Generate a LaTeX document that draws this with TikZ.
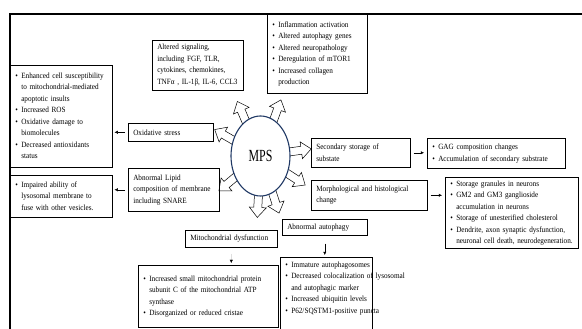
\documentclass[tikz,border=0pt]{standalone}
\usepackage{fontspec}
\setmainfont{Liberation Serif}[FakeStretch=0.9]
\newfontfamily\mpsfont{Liberation Serif}[FakeStretch=0.7]
\usetikzlibrary{arrows.meta,shapes.geometric}
\pgfdeclarelayer{bg}
\pgfsetlayers{bg,main}
\newenvironment{blist}{\begin{tabular}{@{}l@{\hspace{3.5pt}}l@{}}}{\end{tabular}}
\definecolor{mpsblue}{RGB}{31,56,100}
\tikzset{
  box/.style={draw=black, line width=0.55pt, anchor=north west, inner xsep=5pt, inner ysep=0pt, align=left, font=\fontsize{8}{11.5}\selectfont},
  lnk/.style={line width=0.4pt, -{Latex[length=3.2pt,width=3.2pt]}},
  blk/.style={draw=black, line width=0.5pt, fill=white},
}
\begin{document}
\begin{tikzpicture}[x=1pt,y=-1pt]
\useasboundingbox (0,0) rectangle (582,329);
% frame
\coordinate (fbl) at (10,340);
\coordinate (ftl) at (10,14);
\coordinate (ftr) at (600,14);
\draw[line width=1.6pt] (fbl) -- (ftl) -- (ftr);
% boxes
\node[box, text width=92pt, minimum height=102pt] (b1) at (10,65) {\noindent\begin{blist}
\textbullet & Enhanced cell susceptibility\\
 & to mitochondrial-mediated\\
 & apoptotic insults\\
\textbullet & Increased ROS\\
\textbullet & Oxidative damage to\\
 & biomolecules\\
\textbullet & Decreased antioxidants\\
 & status\end{blist}};
\node[box, text width=92pt, minimum height=42pt] (b2) at (10,175) {\noindent\begin{blist}
\textbullet & Impaired ability of\\
 & lysosomal membrane to\\
 & fuse with other vesicles.\end{blist}};
\node[box, text width=81pt, minimum height=50pt] (b3) at (152,40) {Altered signaling,\\ including FGF, TLR,\\ cytokines, chemokines,\\ TNFα , IL-1β, IL-6, CCL3};
\node[box, text width=90pt, minimum height=79pt] (b4) at (267,14) {\noindent\begin{blist}
\textbullet & Inflammation activation\\
\textbullet & Altered autophagy genes\\
\textbullet & Altered neuropathology\\
\textbullet & Deregulation of mTOR1\\
\textbullet & Increased collagen\\
 & production\end{blist}};
\node[box, text width=75pt, minimum height=18pt] (b5) at (128,123) {Oxidative stress};
\node[box, text width=81pt, minimum height=43pt] (b6) at (128,168) {Abnormal Lipid\\ composition of membrane\\ including SNARE};
\node[box, text width=89pt, minimum height=29pt] (b7) at (311,138) {Secondary storage of\\ substate};
\node[box, text width=128pt, minimum height=30pt] (b8) at (427,138) {\noindent\begin{blist}
\textbullet & GAG composition changes\\
\textbullet & Accumulation of secondary substrate\end{blist}};
\node[box, text width=106pt, minimum height=30pt] (b9) at (311,180) {Morphological and histological\\ change};
\node[box, text width=123pt, minimum height=71pt] (b10) at (445,177) {\noindent\begin{blist}
\textbullet & Storage granules in neurons\\
\textbullet & GM2 and GM3 ganglioside\\
 & accumulation in neurons\\
\textbullet & Storage of unesterified cholesterol\\
\textbullet & Dendrite, axon synaptic dysfunction,\\
 & neuronal cell death, neurodegeneration.\end{blist}};
\node[box, text width=75pt, minimum height=16pt] (b11) at (282,219) {Abnormal autophagy};
\node[box, text width=82pt, inner ysep=2pt] (b12) at (280,257) {\noindent\begin{blist}
\textbullet & Immature autophagosomes\\
\textbullet & Decreased colocalization of lysosomal\\
 & and autophagic marker\\
\textbullet & Increased ubiquitin levels\\
\textbullet & P62/SQSTM1-positive puncta\rule[-30pt]{0pt}{0pt}\end{blist}};
\node[box, text width=82pt, minimum height=17pt] (b13) at (185,230) {Mitochondrial dysfunction};
\node[box, text width=130pt, minimum height=62pt] (b14) at (138,265) {\noindent\begin{blist}
\textbullet & Increased small mitochondrial protein\\
 & subunit C of the mitochondrial ATP\\
 & synthase\\
\textbullet & Disorganized or reduced cristae\end{blist}};
% central ellipse
\node[ellipse, draw=mpsblue, line width=1.1pt, fill=white, minimum width=59pt, minimum height=80pt, inner sep=0pt, font=\mpsfont\fontsize{17}{17}\selectfont] (mps) at (260.5,156) {MPS};
\begin{pgfonlayer}{bg}
\foreach \a in {113,70,150,8,327,220,267,288}{
  \draw[blk, shift={(mps.\a)}, rotate=\a] (-6,-4) -- (11,-4) -- (11,-8.5) -- (21,0) -- (11,8.5) -- (11,4) -- (-6,4) -- cycle;
}
\end{pgfonlayer}
% connectors
\draw[lnk, shorten <=3pt, shorten >=2pt] (b5.west) -- (b1.east |- b5.west);
\draw[lnk, shorten <=3pt, shorten >=2pt] (b6.west) -- (b2.east |- b6.west);
\draw[lnk, shorten <=3pt, shorten >=3pt] (b7.east) -- (b8.west |- b7.east);
\draw[lnk, shorten <=3pt, shorten >=3pt] (b9.east) -- (b10.west |- b9.east);
\draw[lnk, shorten <=8pt, shorten >=2pt] (b11.south) -- (b12.north -| b11.south);
\draw[line width=0.3pt, gray!25, shorten <=6pt, shorten >=2pt, -{Latex[length=3.2pt,width=3.2pt,color=black]}] (b13.south) -- (b14.north -| b13.south);
\end{tikzpicture}
\end{document}
